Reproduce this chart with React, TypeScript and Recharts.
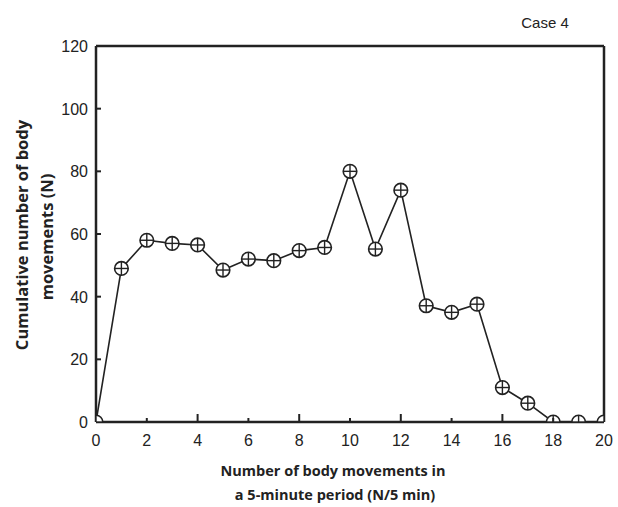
import { CartesianGrid, Line, LineChart, ReferenceLine, XAxis, YAxis } from "recharts";

// movements per 5 min (x) vs cumulative count (y)
const xValues = [0, 1, 2, 3, 4, 5, 6, 7, 8, 9, 10, 11, 12, 13, 14, 15, 16, 17, 18, 19, 20];
const counts = [0, 49, 58, 57, 56.5, 48.5, 52, 51.5, 54.7, 55.7, 80, 55.2, 74, 37.1, 35, 37.6, 11, 6, 0, 0, 0];
const xTicks = [0, 2, 4, 6, 8, 10, 12, 14, 16, 18, 20];
const yTicks = [0, 20, 40, 60, 80, 100, 120];

const data = xValues.map((x, i) => ({ x, n: counts[i] }));

const tickFont = { fontFamily: "Liberation Sans, Arial, sans-serif", fontSize: 16, fill: "#222" };
const titleFont = { fontFamily: "Open Sans, sans-serif", fontSize: 14.5, fontWeight: 700, fill: "#222" };

const XTick = ({ x, y, payload }: any) => {
  const v = payload.value as number;
  const len = v === 0 || v === 20 ? 0 : v % 4 === 0 ? 8 : 4;
  return (
    <g>
      {len > 0 && <line x1={x} x2={x} y1={y} y2={y - len} stroke="#222" strokeWidth={2} />}
      <text x={x} y={y + 24} textAnchor="middle" {...tickFont}>{v}</text>
    </g>
  );
};

const YTick = ({ x, y, payload }: any) => {
  const v = payload.value as number;
  const len = v === 0 || v === 120 ? 0 : 5;
  return (
    <g>
      {len > 0 && <line x1={x} x2={x + len} y1={y} y2={y} stroke="#222" strokeWidth={2} />}
      <text x={x - 8} y={y + 6} textAnchor="end" {...tickFont}>{v}</text>
    </g>
  );
};

const CrossDot = ({ cx, cy, index }: any) => {
  if (cx == null || cy == null) return null;
  const r = 6.8;
  return (
    <g key={`dot-${index}`}>
      <circle cx={cx} cy={cy} r={r} fill="#fff" stroke="#222" strokeWidth={1.6} />
      <line x1={cx - r} x2={cx + r} y1={cy} y2={cy} stroke="#222" strokeWidth={1.4} />
      <line x1={cx} x2={cx} y1={cy - r} y2={cy + r} stroke="#222" strokeWidth={1.4} />
    </g>
  );
};

const Titles = () => (
  <g>
    <text x={333} y={476} textAnchor="middle" {...titleFont}>Number of body movements in</text>
    <text x={335} y={500} textAnchor="middle" {...titleFont}>a 5-minute period (N/5 min)</text>
    <text transform="translate(28,235) rotate(-90)" textAnchor="middle" {...titleFont} fontSize={16.5}>Cumulative number of body</text>
    <text transform="translate(53,237) rotate(-90)" textAnchor="middle" {...titleFont} fontSize={16.5}>movements (N)</text>
    <text x={545} y={28} textAnchor="middle" {...tickFont} fontSize={15}>Case 4</text>
  </g>
);

export default function App() {
  return (
    <div style={{ position: "absolute", left: 0, top: 0, background: "#fff" }}>
      <LineChart width={618} height={507} data={data} margin={{ top: 46, right: 14, bottom: 0, left: 0 }}>
        <CartesianGrid stroke="none" />
        <XAxis
          dataKey="x"
          type="number"
          domain={[0, 20]}
          ticks={xTicks}
          allowDataOverflow
          height={85}
          tickSize={0}
          tickMargin={0}
          tickLine={false}
          tick={<XTick />}
          axisLine={{ stroke: "#222", strokeWidth: 2.5 }}
          label={{ content: () => <Titles /> }}
        />
        <YAxis
          type="number"
          domain={[0, 120]}
          ticks={yTicks}
          allowDataOverflow
          width={96}
          tickSize={0}
          tickMargin={0}
          tickLine={false}
          tick={<YTick />}
          axisLine={{ stroke: "#222", strokeWidth: 2.5 }}
        />
        <ReferenceLine y={120} stroke="#222" strokeWidth={2.5} />
        <ReferenceLine x={20} stroke="#222" strokeWidth={2.5} />
        <Line
          dataKey="n"
          type="linear"
          stroke="#222"
          strokeWidth={1.6}
          dot={<CrossDot />}
          isAnimationActive={false}
        />
      </LineChart>
    </div>
  );
}
